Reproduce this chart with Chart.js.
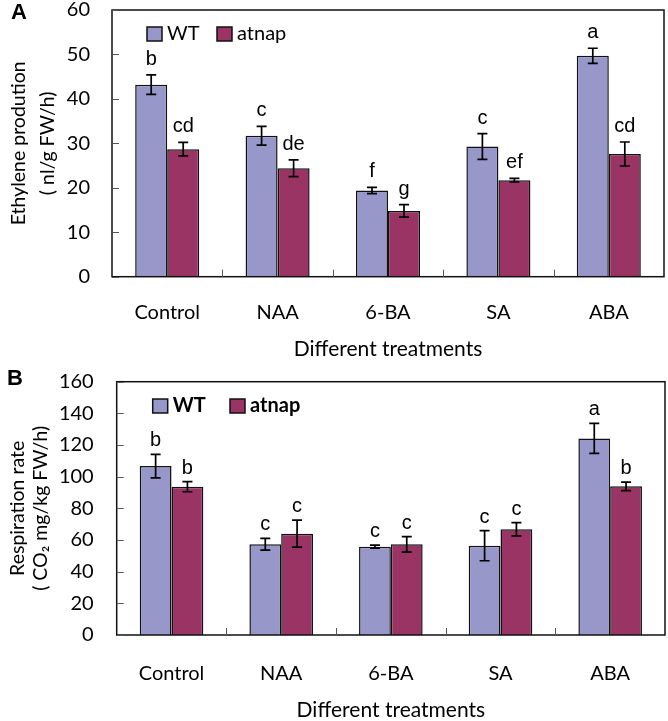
<!DOCTYPE html>
<html>
<head>
<meta charset="utf-8">
<script src="https://cdn.jsdelivr.net/npm/chart.js@4.4.1/dist/chart.umd.min.js"></script>
<style>
    body { margin: 0; background: #fff; }
    #wrap { position: relative; width: 668px; height: 721px; }
    canvas { position: absolute; left: 0; }
</style>
</head>
<body>
<div id="wrap">
    <canvas id="ethyleneChart" width="668" height="360" style="top:0"></canvas>
    <canvas id="respChart" width="668" height="361" style="top:360px"></canvas>
</div>
<script>
// --- data ---
const treatments = ['Control', 'NAA', '6-BA', 'SA', 'ABA'];

const ethyleneWT = [43.2, 31.7, 19.4, 29.3, 49.7];
const ethyleneWTErr = [2.2, 2.1, 0.7, 2.9, 1.7];
const ethyleneWTLetters = ['b', 'c', 'f', 'c', 'a'];
const ethyleneAtnap = [28.7, 24.4, 14.8, 21.7, 27.6];
const ethyleneAtnapErr = [1.5, 1.9, 1.4, 0.4, 2.7];
const ethyleneAtnapLetters = ['cd', 'de', 'g', 'ef', 'cd'];

const respWT = [106.7, 57.3, 55.8, 56.4, 124.2];
const respWTErr = [7.4, 3.7, 1.0, 9.5, 9.5];
const respWTLetters = ['b', 'c', 'c', 'c', 'a'];
const respAtnap = [93.7, 64.0, 57.3, 66.8, 93.9];
const respAtnapErr = [3.2, 8.5, 4.9, 4.2, 2.7];
const respAtnapLetters = ['b', 'c', 'c', 'c', 'b'];

const WT_COLOR = '#9797c9';
const ATNAP_COLOR = '#9a3464';
const TICK_FONT = 'Lato';

/**
 * error bars + significance letters
 */
const errorBarPlugin = {
    id: 'errorBars',
    afterDatasetsDraw(chart, args, opts) {
        const ctx = chart.ctx;
        const y = chart.scales.y;
        chart.data.datasets.forEach((ds, i) => {
            const meta = chart.getDatasetMeta(i);
            meta.data.forEach((bar, j) => {
                const v = ds.data[j];
                const e = ds.errors[j];
                const top = y.getPixelForValue(v + e);
                const bot = y.getPixelForValue(v - e);
                ctx.save();
                ctx.strokeStyle = '#000';
                ctx.lineWidth = 1.7;
                ctx.beginPath();
                ctx.moveTo(bar.x, top); ctx.lineTo(bar.x, bot);
                ctx.moveTo(bar.x - 5, top); ctx.lineTo(bar.x + 5, top);
                ctx.moveTo(bar.x - 5, bot); ctx.lineTo(bar.x + 5, bot);
                ctx.stroke();
                ctx.fillStyle = '#000';
                ctx.font = '20px "Liberation Sans", Arial, sans-serif';
                ctx.textAlign = 'center';
                ctx.textBaseline = 'alphabetic';
                ctx.fillText(ds.letters[j], bar.x, top - opts.gap);
                ctx.restore();
            });
        });
    }
};

/**
 * plot frame, inside tick marks, legend, panel letter
 */
const framePlugin = {
    id: 'frame',
    afterDraw(chart, args, opts) {
        const ctx = chart.ctx;
        const a = chart.chartArea;
        const x = chart.scales.x;
        const y = chart.scales.y;
        ctx.save();
        ctx.strokeStyle = '#111';
        ctx.lineWidth = 1.5;
        ctx.strokeRect(a.left, a.top, a.right - a.left, a.bottom - a.top);

        ctx.lineWidth = 1;
        ctx.strokeStyle = '#555';
        ctx.beginPath();
        y.ticks.forEach(t => {
            const py = Math.round(y.getPixelForValue(t.value)) + 0.5;
            ctx.moveTo(a.left, py); ctx.lineTo(a.left + 7, py);
        });
        for (let i = 1; i < treatments.length; i++) {
            const px = Math.round((x.getPixelForValue(i - 1) + x.getPixelForValue(i)) / 2) + 0.5;
            ctx.moveTo(px, a.bottom); ctx.lineTo(px, a.bottom - 7);
        }
        ctx.stroke();

        // legend
        ctx.font = opts.legendFont;
        ctx.textBaseline = 'middle';
        ctx.textAlign = 'left';
        chart.data.datasets.forEach((ds, i) => {
            const bx = a.left + opts.legendX[i];
            const by = a.top + opts.legendY;
            ctx.fillStyle = ds.backgroundColor;
            ctx.fillRect(bx, by, 15, 14);
            ctx.strokeStyle = '#111';
            ctx.lineWidth = 1.5;
            ctx.strokeRect(bx, by, 15, 14);
            ctx.fillStyle = '#000';
            ctx.fillText(ds.label, bx + 20, by + 7);
        });

        // panel letter
        ctx.font = 'bold 22px "Liberation Sans", Arial, sans-serif';
        ctx.textBaseline = 'alphabetic';
        ctx.fillStyle = '#000';
        ctx.fillText(opts.panel, opts.panelX, opts.panelY);
        ctx.restore();
    }
};

function renderBarChart(id, cfg) {
    const ctx = document.getElementById(id);
    if (!ctx) return;

    return new Chart(ctx, {
        type: 'bar',
        data: {
            labels: treatments,
            datasets: [{
                label: 'WT',
                data: cfg.wt,
                errors: cfg.wtErr,
                letters: cfg.wtLetters,
                backgroundColor: WT_COLOR,
                borderColor: '#111',
                borderWidth: 1.5
            }, {
                label: 'atnap',
                data: cfg.atnap,
                errors: cfg.atnapErr,
                letters: cfg.atnapLetters,
                backgroundColor: ATNAP_COLOR,
                borderColor: '#111',
                borderWidth: 1.5
            }]
        },
        options: {
            responsive: false,
            animation: false,
            devicePixelRatio: 1,
            categoryPercentage: 0.58,
            barPercentage: 1,
            layout: {
                padding: {top: cfg.padTop, right: cfg.padRight, bottom: 0, left: 0}
            },
            plugins: {
                legend: {display: false},
                tooltip: {enabled: false},
                errorBars: {gap: cfg.letterGap},
                frame: cfg.frame
            },
            scales: {
                x: {
                    grid: {display: false, drawTicks: false},
                    border: {display: false},
                    ticks: {
                        color: '#000',
                        padding: cfg.xTickPad,
                        font: {family: TICK_FONT, size: 20}
                    },
                    title: {
                        display: true,
                        text: 'Different treatments',
                        color: '#000',
                        padding: 0,
                        font: {family: TICK_FONT, size: 21, lineHeight: 1}
                    },
                    afterFit: function(scale) {
                        scale.height = cfg.xHeight;
                        scale.paddingLeft = 0;
                        scale.paddingRight = 0;
                    }
                },
                y: {
                    min: 0,
                    max: cfg.yMax,
                    grid: {display: false, drawTicks: false},
                    border: {display: false},
                    ticks: {
                        stepSize: cfg.yStep,
                        color: '#000',
                        padding: cfg.yTickPad,
                        font: {family: TICK_FONT, size: 20}
                    },
                    title: {
                        display: true,
                        text: cfg.yTitle,
                        color: '#000',
                        padding: {top: cfg.yTitlePad, bottom: 0},
                        font: {family: TICK_FONT, size: 19.5, lineHeight: cfg.yTitleLH}
                    },
                    afterFit: function(scale) {
                        scale.width = cfg.yWidth;
                        scale.paddingTop = 0;
                        scale.paddingBottom = 0;
                    }
                }
            }
        },
        plugins: [errorBarPlugin, framePlugin]
    });
}

renderBarChart('ethyleneChart', {
    wt: ethyleneWT, wtErr: ethyleneWTErr, wtLetters: ethyleneWTLetters,
    atnap: ethyleneAtnap, atnapErr: ethyleneAtnapErr, atnapLetters: ethyleneAtnapLetters,
    yMax: 60, yStep: 10,
    yTitle: ['Ethylene prodution', '( nl/g FW/h)'],
    yTitleLH: 1.46, yTitlePad: 4.75,
    padTop: 10, padRight: 4,
    yWidth: 112, xHeight: 83.3,
    xTickPad: 24, yTickPad: 22,
    letterGap: 10,
    frame: {
        legendFont: '20px Lato', legendX: [35, 105], legendY: 17,
        panel: 'A', panelX: 11, panelY: 19
    }
});

renderBarChart('respChart', {
    wt: respWT, wtErr: respWTErr, wtLetters: respWTLetters,
    atnap: respAtnap, atnapErr: respAtnapErr, atnapLetters: respAtnapLetters,
    yMax: 160, yStep: 20,
    yTitle: ['Respiration rate', '( CO\u2082 mg/kg FW/h)'],
    yTitleLH: 1.2, yTitlePad: 5.85,
    padTop: 21.7, padRight: 3,
    yWidth: 116.7, xHeight: 86,
    xTickPad: 27, yTickPad: 23,
    letterGap: 8,
    frame: {
        legendFont: 'bold 20px Lato', legendX: [36, 113.3], legendY: 17.3,
        panel: 'B', panelX: 7, panelY: 25
    }
});
</script>
</body>
</html>
